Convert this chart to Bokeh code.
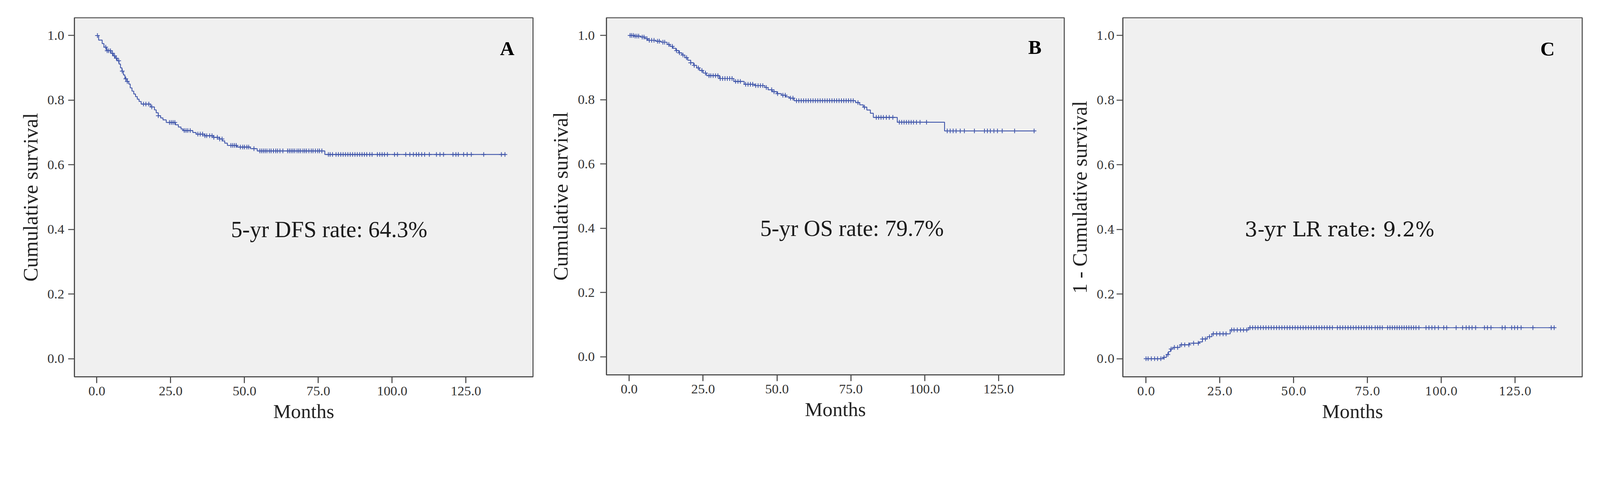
import numpy as np
from bokeh.plotting import figure
from bokeh.layouts import row
from bokeh.models import Range1d, FixedTicker, PrintfTickFormatter, Label
from bokeh.embed import file_html
from bokeh.resources import INLINE

# ---------------- data ----------------
x_ticks = [0, 25, 50, 75, 100, 125]
y_ticks = [0.0, 0.2, 0.4, 0.6, 0.8, 1.0]

# A: disease-free survival (Kaplan-Meier steps)
dfs_time = [0, 0.6, 1.8, 2.4, 3.3, 4.8, 5.6, 6.2, 6.9, 7.5,
            8.0, 8.5, 9.0, 9.5, 10.2, 10.8, 11.3, 11.9, 12.5, 13.1,
            13.7, 14.3, 15.0, 18.2, 19.5, 20.1, 20.8, 21.6, 22.4, 23.5,
            26.6, 27.6, 28.5, 29.2, 32.5, 33.6, 36.5, 39.5, 41.5, 42.5,
            43.3, 44.2, 47.5, 52.0, 54.3, 77.2]
dfs_surv = [1.0, 0.986, 0.975, 0.964, 0.953, 0.945, 0.937, 0.930, 0.922, 0.912,
            0.900, 0.890, 0.878, 0.866, 0.858, 0.850, 0.838, 0.828, 0.819, 0.811,
            0.803, 0.796, 0.788, 0.779, 0.770, 0.761, 0.752, 0.745, 0.739, 0.731,
            0.724, 0.717, 0.711, 0.706, 0.700, 0.695, 0.690, 0.685, 0.680, 0.674,
            0.667, 0.660, 0.655, 0.650, 0.643, 0.632]
dfs_end = 138.5
dfs_censor = [0.2, 3.0, 3.5, 4.0, 4.6, 5.3, 6.0, 6.6, 7.4, 8.6, 9.8, 10.3,
              15.8, 16.6, 17.6, 18.6, 20.8, 24.6, 25.2, 25.8, 26.4, 29.6, 30.2,
              30.8, 31.6, 34.2, 35.0, 35.8, 36.6, 37.2, 38.2, 39.0, 39.6, 40.8,
              41.6, 42.4, 45.4, 46.0, 46.6, 47.2, 48.6, 49.4, 50.0, 50.8, 51.4,
              53.2, 55.2, 55.8, 56.4, 57.0, 57.6, 58.4, 59.0, 59.8, 60.6, 61.2,
              62.0, 63.0, 64.6, 65.2, 65.8, 66.4, 67.0, 67.8, 68.4, 69.0, 69.8,
              70.4, 71.0, 71.8, 72.6, 73.2, 74.0, 74.8, 75.4, 76.2, 78.4, 79.0,
              79.8, 81.0, 81.8, 82.6, 83.4, 84.2, 85.0, 85.8, 86.6, 87.4, 88.2,
              89.0, 89.8, 90.6, 91.4, 92.4, 93.2, 95.0, 95.8, 96.6, 97.4, 98.4,
              100.8, 101.8, 104.6, 106.0, 107.2, 108.2, 109.0, 110.0, 111.0,
              112.6, 115.0, 116.2, 117.4, 120.6, 121.6, 122.4, 124.2, 125.4,
              126.8, 131.0, 137.0, 138.2]

# B: overall survival
os_time = [0, 1.6, 3.9, 5.4, 6.3, 9.0, 10.8, 12.8, 13.8, 14.8,
           15.8, 16.8, 17.8, 18.8, 19.8, 20.8, 21.8, 22.8, 23.8, 25.0,
           26.2, 30.5, 35.4, 38.9, 42.5, 45.9, 47.0, 48.4, 50.0, 51.5,
           53.0, 54.2, 55.8, 76.6, 78.0, 79.2, 80.4, 81.6, 82.6, 90.7,
           106.7]
os_surv = [1.0, 0.998, 0.995, 0.990, 0.985, 0.982, 0.979, 0.972, 0.966, 0.960,
           0.953, 0.946, 0.939, 0.931, 0.923, 0.915, 0.907, 0.899, 0.891, 0.883,
           0.875, 0.866, 0.857, 0.848, 0.844, 0.838, 0.831, 0.825, 0.819, 0.814,
           0.809, 0.805, 0.797, 0.791, 0.784, 0.777, 0.768, 0.758, 0.745, 0.730,
           0.703]
os_end = 137.5
os_censor = [0.3, 0.8, 1.4, 2.0, 2.6, 3.2, 4.4, 5.0, 6.0, 6.8, 7.6, 8.4, 9.6,
             10.2, 11.4, 12.0, 13.4, 14.6, 16.0, 17.0, 18.2, 19.4, 20.8, 22.0,
             23.4, 24.6, 25.8, 27.0, 27.6, 28.4, 29.2, 30.0, 30.8, 31.6, 32.4,
             33.2, 34.0, 34.8, 36.0, 36.8, 37.6, 39.4, 40.2, 41.0, 41.8, 42.8,
             43.6, 44.4, 45.2, 46.4, 48.2, 49.0, 50.2, 52.0, 52.8, 54.6, 55.4,
             56.6, 57.4, 58.2, 59.0, 59.8, 60.6, 61.4, 62.2, 63.0, 63.8, 64.6,
             65.4, 66.2, 67.0, 67.8, 68.6, 69.4, 70.2, 71.0, 71.8, 72.6, 73.4,
             74.2, 75.0, 75.8, 77.4, 79.6, 83.6, 84.4, 85.2, 86.0, 87.0, 88.0,
             89.2, 91.4, 92.2, 93.0, 93.8, 94.6, 95.4, 96.2, 97.2, 98.4, 100.6,
             107.6, 108.6, 109.6, 110.6, 112.0, 113.4, 116.8, 120.2, 121.2,
             122.2, 123.4, 124.6, 126.2, 130.4, 137.0]

# C: local recurrence, 1 - cumulative survival
lr_time = [0, 5.8, 6.9, 7.6, 8.3, 9.1, 11.5, 14.7, 18.0, 19.1, 20.7, 22.3, 28.5, 34.7]
lr_cum = [0.0, 0.004, 0.013, 0.022, 0.030, 0.035, 0.043, 0.048, 0.052, 0.061,
          0.068, 0.077, 0.089, 0.096]
lr_end = 138.5
lr_censor = [0.0, 0.7, 1.8, 2.9, 3.9, 5.0, 6.1, 7.4, 8.5, 9.6, 10.7, 12.0, 13.1,
             14.5, 16.1, 17.7, 19.1, 20.1, 21.5, 22.8, 23.9, 25.0, 26.1, 27.1,
             29.0, 29.8, 30.9, 32.0, 33.0, 34.1, 35.2, 36.1, 37.0, 37.9, 38.8,
             39.7, 40.6, 41.5, 42.4, 43.3, 44.2, 45.1, 46.0, 46.9, 47.8, 48.7,
             49.6, 50.5, 51.4, 52.3, 53.2, 54.1, 55.0, 55.9, 56.8, 57.7, 58.6,
             59.5, 60.4, 61.3, 62.2, 63.1, 64.8, 65.7, 66.6, 67.5, 68.4, 69.3,
             70.2, 71.1, 72.0, 72.9, 73.8, 74.7, 75.6, 76.4, 77.6, 78.4, 79.2,
             80.0, 81.8, 82.6, 83.4, 84.2, 85.0, 85.8, 86.6, 87.4, 88.2, 89.0,
             89.8, 90.6, 91.4, 92.4, 94.8, 95.8, 96.8, 97.8, 99.0, 100.8, 101.8,
             105.0, 107.2, 108.4, 109.4, 110.4, 111.6, 114.6, 115.6, 116.8,
             120.6, 121.6, 123.8, 124.8, 125.8, 127.0, 131.0, 137.2, 138.2]

x_label = "Months"
y_labels = ["Cumulative survival", "Cumulative survival", "1 - Cumulative survival"]
rate_texts = ["5-yr DFS rate: 64.3%", "5-yr OS rate: 79.7%", "3-yr LR rate: 9.2%"]
panel_letters = ["A", "B", "C"]

# ---------------- styling / layout ----------------
S = 1 / 1.095          # page renders slightly enlarged; design in picture px


def px(v):
    return int(round(v * S))


def fs(v):
    return f"{v * S:.1f}px"


BLUE = "#3F55AA"
FRAME_BG = "#F0F0F0"
AX = "#4a4a4a"
SERIF = "Liberation Serif"

panels = [
    dict(time=dfs_time, val=dfs_surv, end=dfs_end, cens=dfs_censor,
         xr=(-7.6, 147.7), fw=1286, fh=1006, bl=208, br=30, bb=170,
         tick_font=SERIF, tick_size=38, tick_stand=11, lab_stand=12,
         text_font=SERIF, text_size=64, text_x=45.4,
         let_x=141.4, let_y=0.961),
    dict(time=os_time, val=os_surv, end=os_end, cens=os_censor,
         xr=(-7.7, 147.2), fw=1283, fh=1001, bl=176, br=4, bb=175,
         tick_font=SERIF, tick_size=38, tick_stand=15, lab_stand=13,
         text_font=SERIF, text_size=64, text_x=44.3,
         let_x=139.5, let_y=0.964),
    dict(time=lr_time, val=lr_cum, end=lr_end, cens=lr_censor,
         xr=(-7.85, 147.7), fw=1288, fh=1006, bl=160, br=30, bb=170,
         tick_font="DejaVu Serif", tick_size=32, tick_stand=6, lab_stand=12,
         text_font="DejaVu Serif", text_size=57, text_x=33.4,
         let_x=138.4, let_y=0.959),
]

figs = []
for i, cfg in enumerate(panels):
    p = figure(frame_width=px(cfg["fw"]), frame_height=px(cfg["fh"]),
               min_border_left=px(cfg["bl"]), min_border_right=px(cfg["br"]),
               min_border_top=px(49), min_border_bottom=px(cfg["bb"]),
               x_range=Range1d(*cfg["xr"]), y_range=Range1d(-0.056, 1.055),
               output_backend="svg", toolbar_location=None)
    p.background_fill_color = FRAME_BG
    p.border_fill_color = "white"
    p.outline_line_color = "#555555"
    p.outline_line_width = 3 * S
    p.xgrid.visible = False
    p.ygrid.visible = False

    # step curve
    xs = list(cfg["time"]) + [cfg["end"]]
    ys = list(cfg["val"]) + [cfg["val"][-1]]
    p.step(xs, ys, mode="after", line_color=BLUE, line_width=2.4 * S)

    # censor marks, placed on the step curve
    t = np.array(cfg["time"])
    v = np.array(cfg["val"])
    c = np.array(cfg["cens"])
    idx = np.searchsorted(t, c, side="right") - 1
    p.scatter(c, v[idx], marker="cross", size=13 * S, line_color=BLUE,
              line_width=2.2 * S)

    # axes
    p.xaxis.ticker = FixedTicker(ticks=x_ticks)
    p.yaxis.ticker = FixedTicker(ticks=y_ticks)
    p.xaxis.formatter = PrintfTickFormatter(format="%.1f")
    p.yaxis.formatter = PrintfTickFormatter(format="%.1f")
    for ax in (p.xaxis, p.yaxis):
        ax.axis_line_color = AX
        ax.axis_line_width = 3 * S
        ax.major_tick_line_color = AX
        ax.major_tick_line_width = 3 * S
        ax.major_tick_in = 0
        ax.major_tick_out = px(17)
        ax.minor_tick_line_color = None
        ax.major_label_text_font = cfg["tick_font"]
        ax.major_label_text_font_size = fs(cfg["tick_size"])
        ax.major_label_text_color = "#333333"
        ax.axis_label_text_font = SERIF
        ax.axis_label_text_font_style = "normal"
        ax.axis_label_text_color = "#222222"
    p.xaxis.axis_label = x_label
    p.xaxis.axis_label_text_font_size = fs(56)
    p.xaxis.major_label_standoff = px(10)
    p.xaxis.axis_label_standoff = px(10)
    p.yaxis.axis_label = y_labels[i]
    p.yaxis.axis_label_text_font_size = fs(58 if i < 2 else 57)
    p.yaxis.major_label_standoff = px(cfg["tick_stand"])
    p.yaxis.axis_label_standoff = px(cfg["lab_stand"])

    p.add_layout(Label(x=cfg["text_x"], y=0.40, text=rate_texts[i],
                       text_font=cfg["text_font"], text_font_size=fs(cfg["text_size"]),
                       text_color="#1a1a1a", text_align="left",
                       text_baseline="alphabetic"))
    p.add_layout(Label(x=cfg["let_x"], y=cfg["let_y"], text=panel_letters[i],
                       text_font=SERIF, text_font_size=fs(56),
                       text_font_style="bold", text_color="black",
                       text_align="right", text_baseline="alphabetic"))
    figs.append(p)

layout = row(*figs, spacing=0)
open("out.html", "w").write(file_html(layout, INLINE))
